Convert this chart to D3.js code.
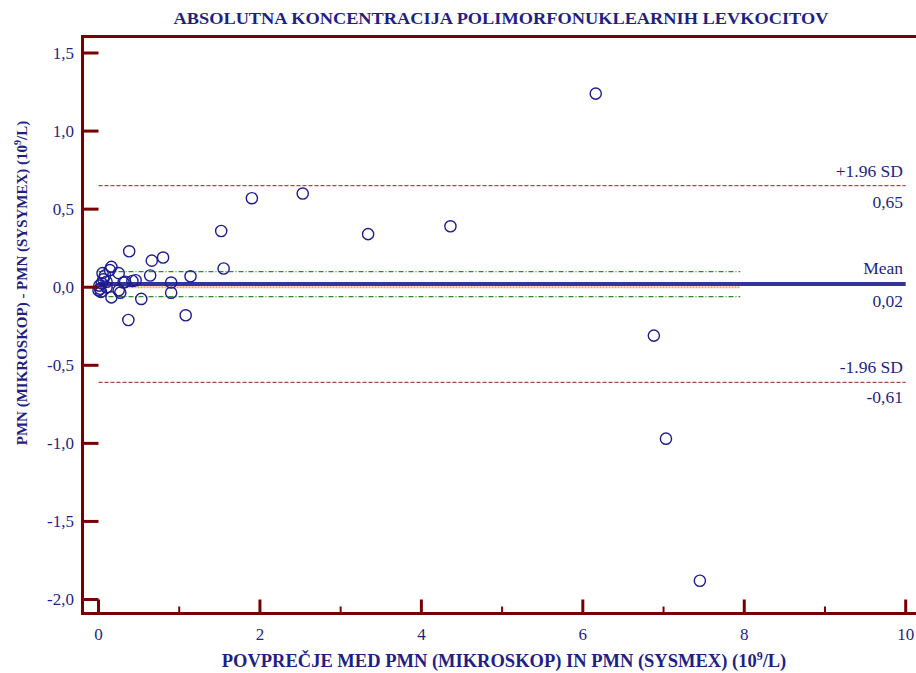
<!DOCTYPE html>
<html><head><meta charset="utf-8">
<script src="https://cdn.jsdelivr.net/npm/d3@7"></script>
<style>body{margin:0;background:#fff}svg{display:block}</style>
</head><body>
<script>
const title = "ABSOLUTNA KONCENTRACIJA POLIMORFONUKLEARNIH LEVKOCITOV";
const xLabel = "POVPREČJE MED PMN (MIKROSKOP) IN PMN (SYSMEX) (10";
const yLabel = "PMN (MIKROSKOP) - PMN (SYSYMEX) (10";
const xTicks = [0, 2, 4, 6, 8, 10];
const xMinorTicks = [1, 3, 5, 7, 9];
const yTicks = [1.5, 1.0, 0.5, 0.0, -0.5, -1.0, -1.5, -2.0];
const meanDiff = 0.02, upperSD = 0.65, lowerSD = -0.61;
const ciUpper = 0.10, ciLower = -0.06, zeroLine = 0.0, ciEndX = 7.95;
const pxVals = [6.16,2.53,1.90,1.52,3.34,4.36,6.88,7.03,7.45,1.55,1.14,1.08,0.90,0.90,0.38,0.66,0.80,0.64,0.53,0.37,0.46,0.42,0.27,0.16,0.31,0.25,0.14,0.16,0.05,0.10,0.08,0.04,0.00,0.02,0.10,0.25,0.33,0.06,0.01,0.03];
const pyVals = [1.24,0.60,0.57,0.36,0.34,0.39,-0.31,-0.97,-1.88,0.12,0.07,-0.18,0.03,-0.035,0.23,0.17,0.19,0.075,-0.075,-0.21,0.045,0.04,-0.035,-0.065,0.03,0.09,0.11,0.13,0.09,0.035,0.075,0.025,-0.02,-0.01,0.0,-0.02,0.035,0.05,0.01,-0.03];

const W = 916, H = 673;
const FONT = "'Liberation Serif', 'Times New Roman', Times, serif";
const axisCol = "#780000", textCol = "#1f1f85";
const x = d3.scaleLinear().domain([0, 10]).range([98.5, 905.7]);
const y = d3.scaleLinear().domain([1.5, -2.0]).range([53, 599.5]);
const svg = d3.select("body").append("svg").attr("width", W).attr("height", H)
  .attr("font-family", FONT);

// title
svg.append("text").attr("x", 501).attr("y", 24).attr("text-anchor", "middle")
  .attr("font-size", 17.5).attr("font-weight", "bold").attr("fill", textCol)
  .attr("textLength", 655).attr("lengthAdjust", "spacingAndGlyphs").text(title);

// reference lines
const x0 = x(0), x1 = x(10);
function hline(v, xe, col, w, dash) {
  svg.append("line").attr("x1", x0).attr("x2", xe).attr("y1", y(v)).attr("y2", y(v))
    .attr("stroke", col).attr("stroke-width", w).attr("stroke-dasharray", dash);
}
hline(upperSD, x1, "#a84848", 1.2, "4,2");
hline(lowerSD, x1, "#a84848", 1.2, "4,2");
hline(ciUpper, x(ciEndX), "#2e8b2e", 1.2, "5,2,1,2");
hline(ciLower, x(ciEndX), "#2e8b2e", 1.2, "5,2,1,2");
hline(zeroLine, x(ciEndX), "#ffa060", 2, "2,1");
hline(meanDiff, x1, "#34349a", 4, null);

// right labels
const lab = [["+1.96 SD", upperSD, -8.5], ["0,65", upperSD, 22], ["Mean", meanDiff, -10], ["0,02", meanDiff, 23], ["-1.96 SD", lowerSD, -9.5], ["-0,61", lowerSD, 21]];
svg.selectAll(".rl").data(lab).join("text").attr("x", 903).attr("y", d => y(d[1]) + d[2])
  .attr("text-anchor", "end").attr("font-size", 17.5).attr("fill", textCol).text(d => d[0]);

// points
svg.selectAll(".pt").data(pxVals.map((v, i) => [v, pyVals[i]])).join("circle")
  .attr("cx", d => x(d[0])).attr("cy", d => y(d[1])).attr("r", 5.6)
  .attr("fill", "none").attr("stroke", "#1c1c90").attr("stroke-width", 1.4);

// frame
const L = 82.5, T = 36.5, B = 613.5;
svg.append("line").attr("x1", L).attr("x2", W).attr("y1", T).attr("y2", T).attr("stroke", axisCol).attr("stroke-width", 3);
svg.append("line").attr("x1", L).attr("x2", W).attr("y1", B).attr("y2", B).attr("stroke", axisCol).attr("stroke-width", 3);
svg.append("line").attr("x1", L).attr("x2", L).attr("y1", T - 1.5).attr("y2", B + 1.5).attr("stroke", axisCol).attr("stroke-width", 3);

// y ticks
svg.selectAll(".yt").data(yTicks).join("line").attr("x1", L).attr("x2", x(0)).attr("y1", d => y(d)).attr("y2", d => y(d))
  .attr("stroke", axisCol).attr("stroke-width", 3);
svg.selectAll(".yl").data(yTicks).join("text").attr("x", 74).attr("y", d => y(d) + 5.5).attr("text-anchor", "end")
  .attr("font-size", 17).attr("fill", textCol).text(d => d3.format(".1f")(d).replace(".", ",").replace("−", "-"));

// x ticks
svg.selectAll(".xt").data(xTicks).join("line").attr("x1", d => x(d)).attr("x2", d => x(d)).attr("y1", B).attr("y2", y(-2.0))
  .attr("stroke", axisCol).attr("stroke-width", 3);
svg.selectAll(".xm").data(xMinorTicks).join("line").attr("x1", d => x(d)).attr("x2", d => x(d)).attr("y1", B).attr("y2", B - 7)
  .attr("stroke", axisCol).attr("stroke-width", 2);
svg.selectAll(".xl").data(xTicks).join("text").attr("x", d => x(d)).attr("y", 640).attr("text-anchor", "middle")
  .attr("font-size", 17).attr("fill", textCol).text(d => d);

// axis labels
const xt = svg.append("text").attr("x", 504).attr("y", 667).attr("text-anchor", "middle")
  .attr("font-size", 18.5).attr("font-weight", "bold").attr("fill", textCol);
xt.append("tspan").text(xLabel);
xt.append("tspan").attr("dy", -7).attr("font-size", 12).text("9");
xt.append("tspan").attr("dy", 7).text("/L)");

const yt = svg.append("text").attr("transform", "translate(27,283) rotate(-90)").attr("text-anchor", "middle")
  .attr("font-size", 15).attr("font-weight", "bold").attr("fill", textCol);
yt.append("tspan").text(yLabel);
yt.append("tspan").attr("dy", -6).attr("font-size", 10).text("9");
yt.append("tspan").attr("dy", 6).text("/L)");
</script>
</body></html>
